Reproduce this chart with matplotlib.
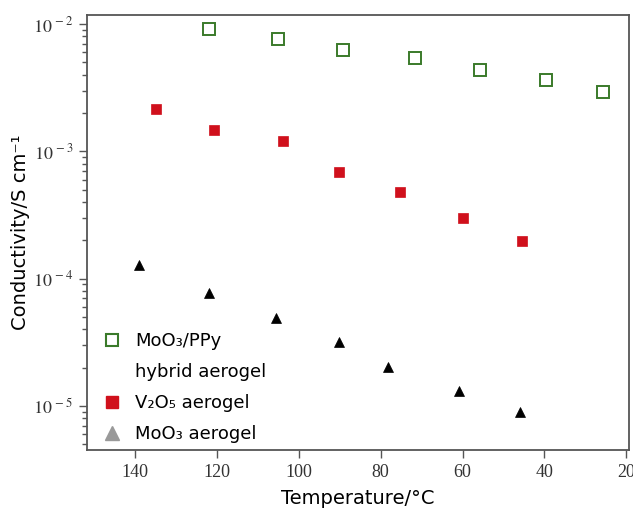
import matplotlib
matplotlib.use("Agg")
import matplotlib.pyplot as plt
from matplotlib.lines import Line2D
from matplotlib.ticker import FixedLocator, LogLocator, NullFormatter

plt.rcParams["mathtext.fontset"] = "stix"

# temperature (deg C) and conductivity (S/cm)
t_hybrid = [121.9, 105.0, 89.1, 71.7, 55.8, 39.6, 25.7]
s_hybrid = [9.1e-3, 7.6e-3, 6.25e-3, 5.4e-3, 4.35e-3, 3.63e-3, 2.92e-3]

t_v2o5 = [134.9, 120.7, 104.0, 90.3, 75.4, 60.0, 45.5]
s_v2o5 = [2.15e-3, 1.47e-3, 1.2e-3, 6.9e-4, 4.79e-4, 2.99e-4, 1.97e-4]

t_moo3 = [139.0, 121.9, 105.7, 90.1, 78.1, 60.9, 46.0]
s_moo3 = [1.28e-4, 7.7e-5, 4.9e-5, 3.17e-5, 2.02e-5, 1.31e-5, 8.95e-6]

x_ticks = [140, 120, 100, 80, 60, 40, 20]
y_ticks = [1e-5, 1e-4, 1e-3, 1e-2]
y_tick_labels = [r"$10^{\,-5}$", r"$10^{\,-4}$", r"$10^{\,-3}$", r"$10^{\,-2}$"]

green = "#3a7a2a"
red = "#d0101c"

fig = plt.figure(figsize=(6.33, 5.09), dpi=100)
ax = fig.add_axes([0.1374, 0.1159, 0.8563, 0.8546])

ax.plot(t_hybrid, s_hybrid, ls="none", marker="s", ms=8, mfc="white", mec=green, mew=1.4)
ax.plot(t_v2o5, s_v2o5, ls="none", marker="s", ms=7.5, mfc=red, mec=red, mew=0.5)
ax.plot(t_moo3, s_moo3, ls="none", marker="^", ms=7.5, mfc="black", mec="black", mew=0.5)

ax.set_yscale("log")
ax.set_xlim(151.8, 19.3)
ax.set_ylim(10 ** -5.346, 10 ** -1.929)

ax.xaxis.set_major_locator(FixedLocator(x_ticks))
ax.set_yticks(y_ticks)
ax.set_yticklabels(y_tick_labels)
ax.yaxis.set_minor_locator(LogLocator(base=10, subs=range(2, 10)))
ax.yaxis.set_minor_formatter(NullFormatter())

for lab in ax.get_xticklabels():
    lab.set_fontfamily("Liberation Serif")
ax.tick_params(axis="both", which="major", direction="out", length=6, width=1,
               colors="#555555", labelcolor="#333333", labelsize=13, pad=4)
ax.tick_params(axis="y", which="minor", direction="out", length=3.5, width=1, colors="#555555")
ax.tick_params(top=False, right=False)
for sp in ax.spines.values():
    sp.set_color("#555555")
    sp.set_linewidth(1.3)

ax.set_xlabel("Temperature/°C", fontsize=14, family="DejaVu Sans", labelpad=6)
ax.set_ylabel("Conductivity/S cm⁻¹", fontsize=14, family="DejaVu Sans", labelpad=2)

handles = [
    Line2D([], [], ls="none", marker="s", ms=9, mfc="white", mec=green, mew=1.5),
    Line2D([], [], ls="none", marker=None),
    Line2D([], [], ls="none", marker="s", ms=9, mfc=red, mec=red),
    Line2D([], [], ls="none", marker="^", ms=10, mfc="#999999", mec="#999999"),
]
labels = ["MoO₃/PPy", "hybrid aerogel", "V₂O₅ aerogel", "MoO₃ aerogel"]
ax.legend(handles, labels, loc="lower left", bbox_to_anchor=(0.0, -0.022), frameon=False,
          prop={"family": "DejaVu Sans", "size": 13}, labelspacing=0.72,
          handlelength=1.0, handletextpad=0.75, borderpad=0.4)

fig.savefig("out.png", dpi=100)
